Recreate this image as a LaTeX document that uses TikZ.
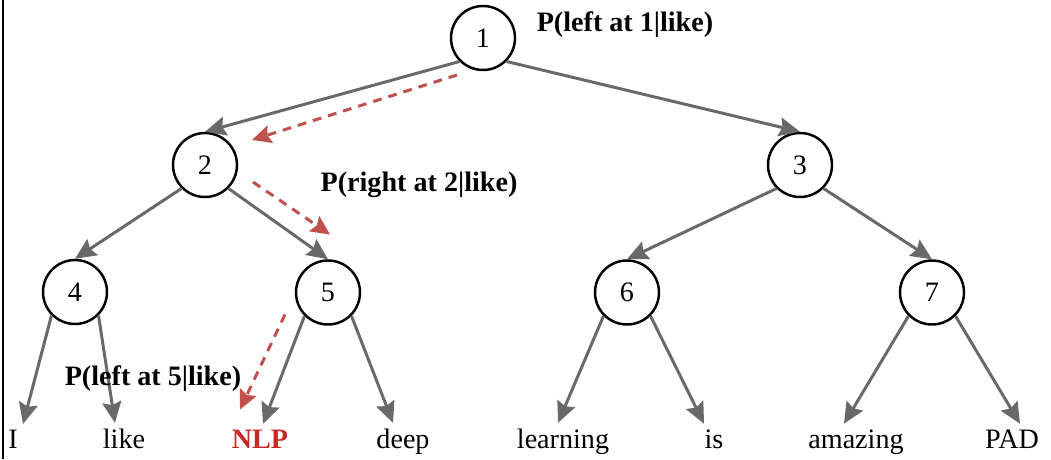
\documentclass[tikz,border=0pt]{standalone}
\usepackage{fontspec}
\setmainfont{Liberation Serif}
\usepackage{tikz}
\usetikzlibrary{arrows.meta}

\definecolor{edgegray}{RGB}{105,105,105}
\definecolor{pathred}{RGB}{192,80,77}
\definecolor{wordred}{RGB}{200,40,40}

\begin{document}
\begin{tikzpicture}[
    treenode/.style={circle, draw=black, line width=1.4pt, minimum size=1.28cm, inner sep=0pt, font=\fontsize{16}{19}\selectfont},
    word/.style={anchor=base, inner sep=3pt, font=\fontsize{16}{19}\selectfont},
    prob/.style={anchor=base, font=\fontsize{16}{19}\selectfont\bfseries},
    edge/.style={draw=edgegray, line width=1.7pt, -{Stealth[length=0.42cm, width=0.38cm, inset=0.06cm]}},
    pathedge/.style={draw=pathred, line width=1.7pt, dash pattern=on 5pt off 4pt, -{Stealth[length=0.38cm, width=0.36cm, inset=0.06cm]}}
]
                \useasboundingbox (0,0) rectangle (21.02,9.18);

                %Frame line on the left
                \draw[line width=1.7pt] (0.06,0) -- (0.06,9.18);

                %Tree nodes
                \foreach \n/\x/\y in {1/9.66/8.42, 2/4.10/5.88, 3/16.00/5.88, 4/1.50/3.34, 5/6.56/3.33, 6/12.54/3.33, 7/18.64/3.33}
                \node[treenode] (n\n) at (\x,\y) {\n};

                %Leaf words
                \foreach \w/\x in {I/0.26, like/2.48, deep/8.06, learning/11.26, is/14.28, amazing/17.12, PAD/20.24}
                \node[word] (w\w) at (\x,0.22) {\w};
                \node[word, text=wordred, font=\fontsize{16}{19}\selectfont\bfseries] (wNLP) at (5.20,0.22) {NLP};

                %Edges between tree nodes
                \foreach \a/\b in {1/2, 2/4, 3/6}
                \draw[edge] (n\a.south west) -- (n\b.north);
                \foreach \a/\b in {1/3, 2/5, 3/7}
                \draw[edge] (n\a.south east) -- (n\b.north);

                %Edges to the words
                \foreach \a/\w/\s in {4/I/0.2, 5/NLP/0.06, 6/learning/-0.1, 7/amazing/-0.24}
                \draw[edge] (n\a.south west) -- ([xshift=\s cm]w\w.north);
                \foreach \a/\w/\s in {4/like/-0.18, 5/deep/-0.2, 6/is/-0.2, 7/PAD/0.16}
                \draw[edge] (n\a.south east) -- ([xshift=\s cm]w\w.north);

                %Path of the word
                \draw[pathedge] ([shift={(-0.52,-0.74)}]n1.center) -- ([shift={(0.94,0.5)}]n2.center);
                \draw[pathedge] ([shift={(0.96,-0.34)}]n2.center) -- ([shift={(0.04,1.16)}]n5.center);
                \draw[pathedge] ([shift={(-0.86,-0.44)}]n5.center) -- ([shift={(-1.76,-2.34)}]n5.center);

                %Probabilities
                \node[prob] (lab1) at (12.50,8.54) {P(left at 1|like)};
                \node[prob] (lab2) at (8.38,5.34) {P(right at 2|like)};
                \node[prob] (lab5) at (3.06,1.48) {P(left at 5|like)};

\end{tikzpicture}
\end{document}
